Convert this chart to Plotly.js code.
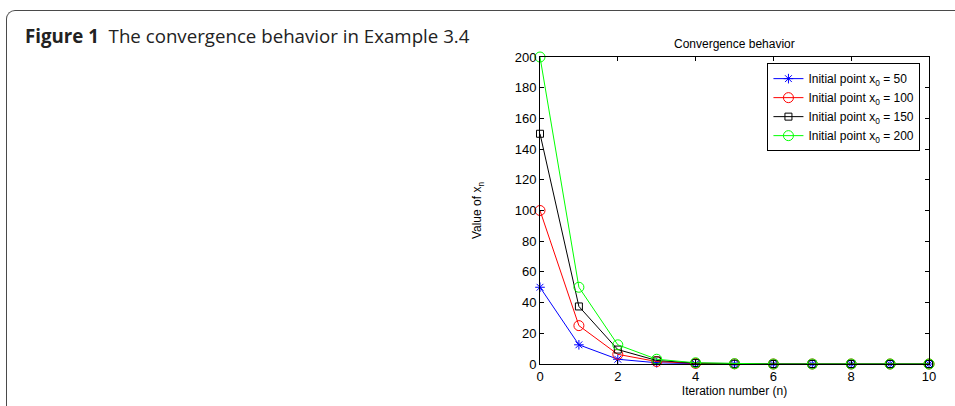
<!DOCTYPE html>
<html>
<head>
<meta charset="utf-8">
<script src="https://cdn.plot.ly/plotly-3.0.1.min.js"></script>
<style>
  html, body { margin: 0; padding: 0; background: #fff; }
  #wrap { position: relative; width: 955px; height: 406px; overflow: hidden; }
  #frame { position: absolute; left: 6px; top: 10px; width: 960px; height: 420px;
           border-left: 1.5px solid #4a4a4a; border-top: 1.5px solid #4a4a4a;
           border-top-left-radius: 9px; box-sizing: border-box; }
  #chart { position: absolute; left: 0; top: 0; width: 955px; height: 406px; }
</style>
</head>
<body>
<div id="wrap">
  <div id="frame"></div>
  <div id="chart"></div>
</div>
<script>
const iterations = [0, 1, 2, 3, 4, 5, 6, 7, 8, 9, 10];
const seriesNames = [
  'Initial point x<sub>0</sub> = 50',
  'Initial point x<sub>0</sub> = 100',
  'Initial point x<sub>0</sub> = 150',
  'Initial point x<sub>0</sub> = 200'
];
const x0_50  = [50, 12.5, 3.1, 0.8, 0.2, 0, 0, 0, 0, 0, 0];
const x0_100 = [100, 25, 6.3, 1.6, 0.4, 0.1, 0, 0, 0, 0, 0];
const x0_150 = [150, 37.5, 9.4, 2.3, 0.6, 0.1, 0, 0, 0, 0, 0];
const x0_200 = [200, 50, 12.5, 3.1, 0.8, 0.2, 0, 0, 0, 0, 0];
const xTicks = [0, 2, 4, 6, 8, 10];
const yTicks = [0, 20, 40, 60, 80, 100, 120, 140, 160, 180, 200];

const seriesData = [x0_50, x0_100, x0_150, x0_200];
const colors = ['#0000ff', '#ff0000', '#000000', '#00ff00'];
const symbols = ['asterisk-open', 'circle-open', 'square-open', 'circle-open'];
const sizes = [8, 10, 7, 10];

const traces = seriesData.map((ys, i) => ({
  x: iterations, y: ys, name: seriesNames[i], type: 'scatter', mode: 'lines+markers',
  line: { color: colors[i], width: 1 },
  marker: { symbol: symbols[i], size: sizes[i], color: colors[i], line: { color: colors[i], width: 1 } },
  cliponaxis: false
}));

const font = 'Liberation Sans, Arial, sans-serif';
const layout = {
  width: 955, height: 406,
  margin: { l: 540, r: 26, t: 57, b: 42 },
  paper_bgcolor: 'rgba(0,0,0,0)', plot_bgcolor: '#fff',
  font: { family: font, size: 12, color: '#000' },
  showlegend: true,
  legend: {
    x: 0.978, xanchor: 'right', y: 0.98, yanchor: 'top',
    bgcolor: '#fff', bordercolor: '#000', borderwidth: 1,
    font: { family: font, size: 12, color: '#000' },
    tracegroupgap: 0, itemwidth: 30
  },
  annotations: [
    { text: 'Convergence behavior', xref: 'paper', yref: 'paper', x: 0.5, y: 1, yanchor: 'bottom', yshift: 4,
      showarrow: false, font: { family: font, size: 12, color: '#000' } },
    { text: '<b>Figure 1</b>  The convergence behavior in Example 3.4', xref: 'paper', yref: 'paper',
      x: (23 - 540) / 389, xanchor: 'left', y: 1 + (57 - 36) / 307, yanchor: 'middle',
      showarrow: false, font: { family: 'Open Sans, sans-serif', size: 18.7, color: '#222' } }
  ],
  xaxis: {
    range: [0, 10], tickvals: xTicks, ticktext: xTicks.map(String),
    ticks: 'inside', ticklen: 4, tickcolor: '#000', tickwidth: 1,
    showline: true, linecolor: '#000', linewidth: 1, mirror: 'ticks',
    showgrid: false, zeroline: false,
    title: { text: 'Iteration number (n)', standoff: 2, font: { family: font, size: 12 } },
    tickfont: { family: font, size: 13 }
  },
  yaxis: {
    range: [0, 200], tickvals: yTicks, ticktext: yTicks.map(String),
    ticks: 'inside', ticklen: 4, tickcolor: '#000', tickwidth: 1,
    showline: true, linecolor: '#000', linewidth: 1, mirror: 'ticks',
    showgrid: false, zeroline: false,
    title: { text: 'Value of x<sub>n</sub>', standoff: 30, font: { family: font, size: 12 } },
    tickfont: { family: font, size: 13 }
  }
};

Plotly.newPlot('chart', traces, layout, { displayModeBar: false, staticPlot: true });
</script>
</body>
</html>
